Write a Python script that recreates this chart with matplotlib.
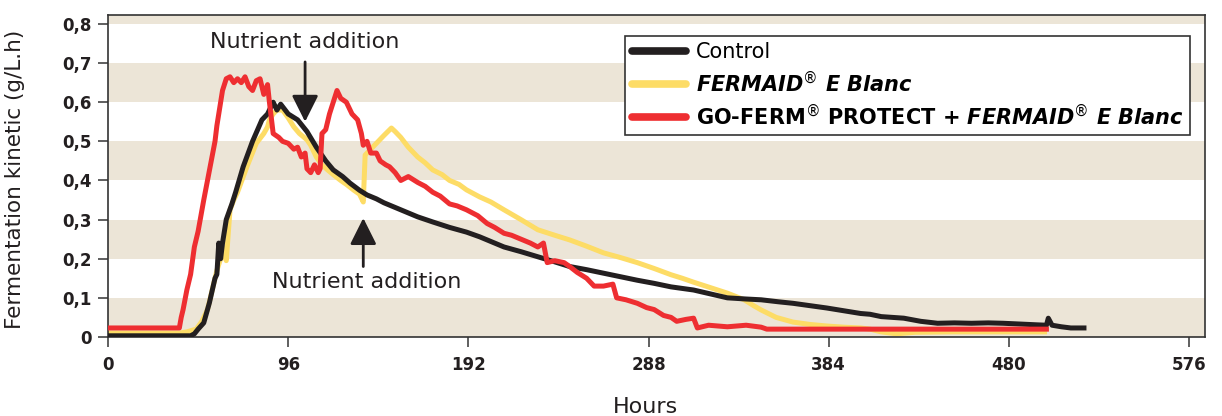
import matplotlib
matplotlib.use('Agg')
import matplotlib.pyplot as plt
from matplotlib import rcParams

rcParams['font.family'] = 'DejaVu Sans'
rcParams['mathtext.fontset'] = 'dejavusans'
rcParams['axes.unicode_minus'] = False

# --- data (hours, g/L.h) ---
control_h = [0, 44, 46, 48, 51, 54, 57, 58, 59, 60, 61, 63, 66, 68, 72, 77, 82, 85, 87, 88,
             90, 92, 96, 101, 106, 111, 116, 120, 125, 129, 134, 138, 143, 147, 156, 165,
             173, 182, 191, 198, 211, 220, 229, 238, 246, 255, 264, 273, 282, 291, 300,
             312, 321, 330, 340, 348, 357, 365, 374, 383, 392, 401, 406, 412, 424, 433,
             442, 451, 460, 469, 477, 486, 495, 500, 501, 503, 508, 513, 520]
control_v = [0.003, 0.003, 0.008, 0.02, 0.036, 0.087, 0.15, 0.16, 0.24, 0.20, 0.24, 0.30,
             0.34, 0.37, 0.435, 0.50, 0.555, 0.57, 0.59, 0.60, 0.58, 0.595, 0.57, 0.555,
             0.525, 0.485, 0.45, 0.427, 0.41, 0.393, 0.375, 0.363, 0.353, 0.343, 0.325,
             0.307, 0.294, 0.28, 0.268, 0.256, 0.23, 0.218, 0.205, 0.192, 0.18, 0.172,
             0.163, 0.154, 0.145, 0.137, 0.128, 0.12, 0.11, 0.10, 0.097, 0.095, 0.09,
             0.086, 0.08, 0.074, 0.067, 0.06, 0.058, 0.052, 0.048, 0.04, 0.035, 0.036,
             0.035, 0.036, 0.035, 0.033, 0.031, 0.03, 0.048, 0.03, 0.026, 0.023, 0.023]

fermaid_h = [0, 38, 42, 47, 50, 53, 56, 58, 60, 61, 62, 63, 65, 67, 69, 74, 79, 83, 85, 86,
             88, 90, 93, 96, 99, 102, 106, 108, 111, 114, 117, 120, 124, 127, 131, 134,
             136, 137, 140, 143, 147, 151, 153, 156, 160, 165, 169, 173, 178, 182, 187,
             191, 198, 204, 211, 220, 229, 238, 246, 255, 264, 273, 282, 291, 300, 306,
             312, 321, 330, 339, 344, 348, 356, 365, 374, 383, 392, 401, 406, 412, 420,
             430, 450, 499]
fermaid_v = [0.01, 0.01, 0.013, 0.02, 0.04, 0.07, 0.13, 0.17, 0.20, 0.23, 0.21, 0.195,
             0.325, 0.35, 0.37, 0.435, 0.495, 0.52, 0.537, 0.555, 0.57, 0.58, 0.58, 0.56,
             0.537, 0.52, 0.504, 0.49, 0.46, 0.44, 0.427, 0.415, 0.40, 0.39, 0.375, 0.365,
             0.345, 0.465, 0.48, 0.495, 0.515, 0.534, 0.525, 0.51, 0.485, 0.46, 0.445,
             0.427, 0.415, 0.40, 0.39, 0.376, 0.358, 0.345, 0.325, 0.30, 0.274, 0.26,
             0.248, 0.232, 0.215, 0.203, 0.19, 0.175, 0.159, 0.15, 0.14, 0.126, 0.112,
             0.095, 0.08, 0.069, 0.05, 0.038, 0.032, 0.028, 0.025, 0.023, 0.02, 0.013,
             0.008, 0.012, 0.013, 0.013]

goferm_h = [0, 38, 39, 40, 42, 44, 46, 48, 51, 53, 55, 57, 58, 60, 61, 63, 65, 67, 69, 71,
            73, 75, 77, 79, 81, 83, 85, 86, 88, 91, 93, 96, 99, 101, 103, 105, 106, 108,
            110, 112, 113, 114, 116, 118, 120, 122, 124, 127, 130, 133, 135, 136, 138,
            140, 143, 145, 148, 150, 153, 156, 160, 165, 169, 173, 177, 182, 186, 191,
            197, 202, 206, 211, 215, 220, 225, 229, 232, 234, 238, 243, 246, 250, 255,
            259, 264, 269, 271, 276, 282, 287, 291, 296, 300, 303, 308, 312, 314, 320,
            330, 340, 348, 351, 500]
goferm_v = [0.023, 0.023, 0.05, 0.07, 0.12, 0.16, 0.23, 0.27, 0.35, 0.40, 0.45, 0.50,
            0.54, 0.60, 0.63, 0.66, 0.665, 0.65, 0.66, 0.65, 0.665, 0.64, 0.63, 0.655,
            0.66, 0.62, 0.645, 0.60, 0.52, 0.51, 0.50, 0.495, 0.48, 0.485, 0.46, 0.47,
            0.43, 0.42, 0.44, 0.42, 0.43, 0.52, 0.53, 0.57, 0.60, 0.63, 0.61, 0.60, 0.57,
            0.555, 0.52, 0.49, 0.50, 0.47, 0.47, 0.45, 0.44, 0.435, 0.42, 0.40, 0.41,
            0.395, 0.385, 0.37, 0.36, 0.34, 0.335, 0.325, 0.31, 0.29, 0.28, 0.265, 0.26,
            0.25, 0.24, 0.23, 0.24, 0.19, 0.195, 0.19, 0.18, 0.165, 0.15, 0.13, 0.13,
            0.135, 0.10, 0.095, 0.086, 0.075, 0.07, 0.055, 0.05, 0.04, 0.045, 0.048,
            0.023, 0.03, 0.026, 0.03, 0.025, 0.02, 0.02]

x_ticks = [0, 96, 192, 288, 384, 480, 576]
y_ticks = [0, 0.1, 0.2, 0.3, 0.4, 0.5, 0.6, 0.7, 0.8]
y_tick_labels = ['0', '0,1', '0,2', '0,3', '0,4', '0,5', '0,6', '0,7', '0,8']

BLACK = '#231f20'
YELLOW = '#fddc66'
RED = '#ee2e31'
BEIGE = '#ece5d7'
TXT = '#231f20'

fig = plt.figure(figsize=(12.22, 4.16), dpi=100)
ax = fig.add_axes([0.0884, 0.19, 0.8977, 0.774])
ax.set_xlim(0, 584.5)
ax.set_ylim(0, 0.823)

# alternating background bands
for lo in [0.0, 0.2, 0.4, 0.6, 0.8]:
    ax.axhspan(lo, lo + 0.1, color=BEIGE, lw=0, zorder=0)

lw = 3.6
ax.plot(control_h, control_v, color=BLACK, lw=lw, solid_joinstyle='round', zorder=3,
        label='Control')
ax.plot(fermaid_h, fermaid_v, color=YELLOW, lw=lw, solid_joinstyle='round', zorder=2,
        label=r'$\mathbfit{FERMAID}$$^{®}$ $\mathbfit{E\ Blanc}$')
ax.plot(goferm_h, goferm_v, color=RED, lw=lw, solid_joinstyle='round', zorder=4,
        label=r'GO-FERM$^{®}$ PROTECT + $\mathbfit{FERMAID}$$^{®}$ $\mathbfit{E\ Blanc}$')

# nutrient addition annotations
arrow_kw = dict(arrowstyle='-|>,head_width=0.45,head_length=0.9', color=TXT, lw=2,
                mutation_scale=18, shrinkA=0, shrinkB=0)
ax.annotate('', xy=(105, 0.55), xytext=(105, 0.703), arrowprops=arrow_kw, zorder=5)
ax.text(105, 0.754, 'Nutrient addition', ha='center', va='center', fontsize=16, color=TXT)
ax.annotate('', xy=(136, 0.304), xytext=(136, 0.18), arrowprops=arrow_kw, zorder=5)
ax.text(138, 0.14, 'Nutrient addition', ha='center', va='center', fontsize=16, color=TXT)

ax.set_xticks(x_ticks)
ax.set_xticklabels([str(t) for t in x_ticks], fontweight='bold', fontsize=12, color=TXT)
ax.set_yticks(y_ticks)
ax.set_yticklabels(y_tick_labels, fontweight='bold', fontsize=12, color=TXT)
ax.tick_params(axis='both', direction='out', length=7, width=1.2, color='#444444', pad=5)
ax.tick_params(axis='x', pad=7)
for s in ax.spines.values():
    s.set_color('#333333')
    s.set_linewidth(1.2)

ax.set_ylabel('Fermentation kinetic (g/L.h)', fontsize=15.5, color=TXT)
ax.yaxis.set_label_coords(-0.076, 0.49)
ax.set_xlabel('Hours', fontsize=16, color=TXT)
ax.xaxis.set_label_coords(0.49, -0.185)

leg = ax.legend(loc='upper right', bbox_to_anchor=(0.986, 0.935), fontsize=15,
                frameon=True, fancybox=False, framealpha=1, edgecolor='#333333',
                handlelength=2.6, handletextpad=0.5, labelspacing=0.35,
                borderpad=0.3, borderaxespad=0)
leg.get_frame().set_linewidth(1.2)
for line in leg.get_lines():
    line.set_linewidth(5.5)
    line.set_solid_capstyle('round')
for t in leg.get_texts()[1:]:
    t.set_fontweight('bold')

fig.savefig('out.png', dpi=100)
